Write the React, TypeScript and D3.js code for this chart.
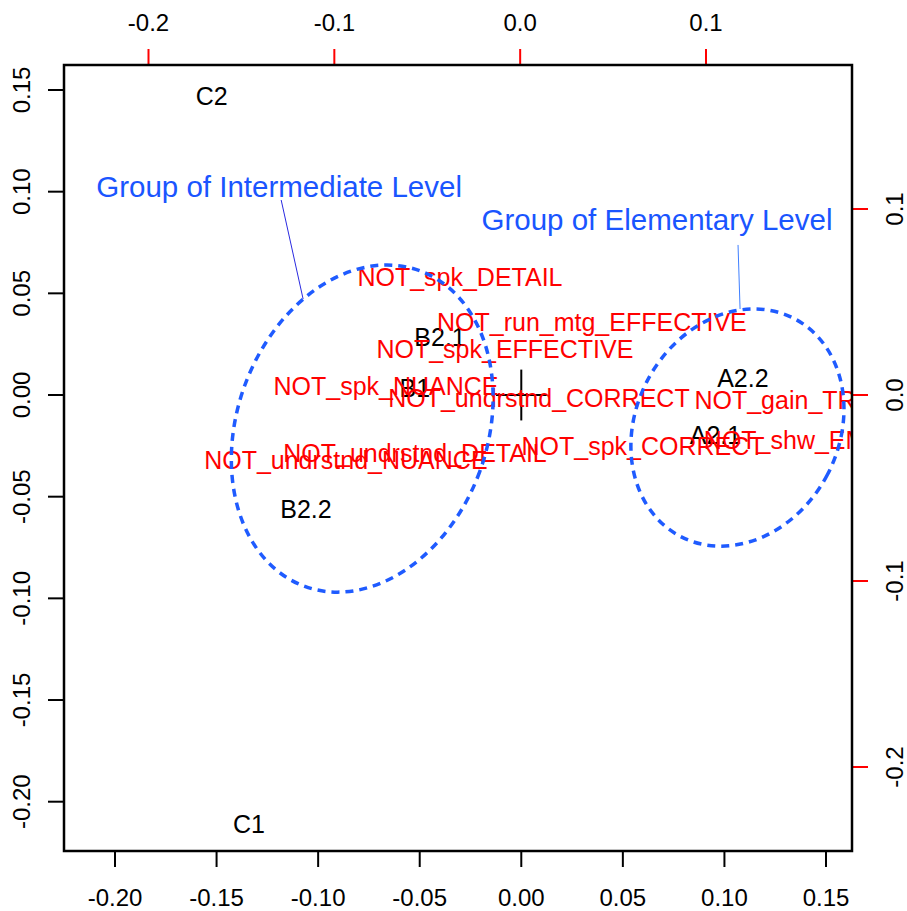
import React from "react";
import * as d3 from "d3";

// row points (black) – bottom / left axes
const rowNames = ["C2", "C1", "B2.2", "B2.1", "B1", "A2.2", "A2.1"];
const rowX = [-0.1524, -0.1341, -0.106, -0.04, -0.0524, 0.1091, 0.0956];
const rowY = [0.1471, -0.211, -0.0561, 0.0285, 0.0034, 0.0084, -0.0197];

// column points (red) – top / right axes
const colNames = [
  "NOT_spk_DETAIL",
  "NOT_run_mtg_EFFECTIVE",
  "NOT_spk_EFFECTIVE",
  "NOT_spk_NUANCE",
  "NOT_undrstnd_CORRECT",
  "NOT_gain_TRUST",
  "NOT_shw_EMPATHY",
  "NOT_spk_CORRECT",
  "NOT_undrstnd_DETAIL",
  "NOT_undrstnd_NUANCE",
];
const colX = [-0.0324, 0.0386, -0.0082, -0.0722, 0.0101, 0.1506, 0.164, 0.0661, -0.0566, -0.0938];
const colY = [0.0634, 0.0392, 0.0247, 0.0048, -0.0016, -0.0027, -0.0242, -0.0274, -0.0312, -0.0349];

const bottomTicks = [-0.2, -0.15, -0.1, -0.05, 0, 0.05, 0.1, 0.15];
const leftTicks = [-0.2, -0.15, -0.1, -0.05, 0, 0.05, 0.1, 0.15];
const topTicks = [-0.2, -0.1, 0, 0.1];
const rightTicks = [-0.2, -0.1, 0, 0.1];

// group ellipses: center x, center y, semi axes (data units), rotation deg
const groupNames = ["Group of Intermediate Level", "Group of Elementary Level"];
const groupCx = [-0.0783, 0.1064];
const groupCy = [-0.0165, -0.016];
const groupA = [0.0616, 0.05];
const groupB = [0.0827, 0.0605];
const groupRot = [20, 27.7];
const groupLabelX = [-0.1192, 0.0668];
const groupLabelY = [0.1023, 0.0861];
const pointerFrom = [[-0.1182, 0.0959], [0.1067, 0.0738]];
const pointerTo = [[-0.1074, 0.0472], [0.1077, 0.0423]];

export default function App() {
  const W = 907;
  const H = 911;
  const box = { left: 64, right: 852, top: 65, bottom: 851 };

  const xB = d3.scaleLinear().domain([-0.2, 0.15]).range([115, 826]);
  const yL = d3.scaleLinear().domain([-0.2, 0.15]).range([801.7, 90]);
  const xT = d3.scaleLinear().domain([-0.2, 0.1]).range([148.5, 706]);
  const yR = d3.scaleLinear().domain([-0.2, 0.1]).range([767, 209]);

  const font = "'Liberation Sans', Arial, sans-serif";
  // R prints a plain hyphen for negatives
  const fmt2 = (v: number) => d3.format(".2f")(v).replace("\u2212", "-");
  const fmt1 = (v: number) => d3.format(".1f")(v).replace("\u2212", "-");
  const unit = xB(1) - xB(0);

  return (
    <svg width={W} height={H} style={{ position: "absolute", left: 0, top: 0 }} fontFamily={font}>
      <defs>
        <clipPath id="plotclip">
          <rect x={box.left} y={box.top} width={box.right - box.left} height={box.bottom - box.top} />
        </clipPath>
      </defs>
      <rect width={W} height={H} fill="white" />

      {/* bottom axis */}
      {bottomTicks.map((t) => (
        <g key={"b" + t}>
          <line x1={xB(t)} x2={xB(t)} y1={box.bottom} y2={box.bottom + 16} stroke="black" strokeWidth={2} />
          <text x={xB(t)} y={897} fontSize={24} textAnchor="middle" dominantBaseline="central">
            {fmt2(t)}
          </text>
        </g>
      ))}
      {/* left axis */}
      {leftTicks.map((t) => (
        <g key={"l" + t}>
          <line x1={box.left - 16} x2={box.left} y1={yL(t)} y2={yL(t)} stroke="black" strokeWidth={2} />
          <text
            transform={`translate(21,${yL(t)}) rotate(-90)`}
            fontSize={24}
            textAnchor="middle"
            dominantBaseline="central"
          >
            {fmt2(t)}
          </text>
        </g>
      ))}
      {/* top axis */}
      {topTicks.map((t) => (
        <g key={"t" + t}>
          <line x1={xT(t)} x2={xT(t)} y1={box.top - 16} y2={box.top} stroke="red" strokeWidth={2} />
          <text x={xT(t)} y={22} fontSize={24} textAnchor="middle" dominantBaseline="central">
            {fmt1(t)}
          </text>
        </g>
      ))}
      {/* right axis */}
      {rightTicks.map((t) => (
        <g key={"r" + t}>
          <line x1={box.right} x2={box.right + 16} y1={yR(t)} y2={yR(t)} stroke="red" strokeWidth={2} />
          <text
            transform={`translate(894,${yR(t)}) rotate(-90)`}
            fontSize={24}
            textAnchor="middle"
            dominantBaseline="central"
          >
            {fmt1(t)}
          </text>
        </g>
      ))}

      <g clipPath="url(#plotclip)">
        {/* origin cross */}
        <line x1={xB(-0.0125)} x2={xB(0.0125)} y1={yL(0)} y2={yL(0)} stroke="black" strokeWidth={2} />
        <line x1={xB(0)} x2={xB(0)} y1={yL(0.0125)} y2={yL(-0.0125)} stroke="black" strokeWidth={2} />

        {rowNames.map((n, i) => (
          <text
            key={n}
            x={xB(rowX[i])}
            y={yL(rowY[i])}
            fontSize={25}
            textAnchor="middle"
            dominantBaseline="central"
            fill="black"
          >
            {n}
          </text>
        ))}

        {colNames.map((n, i) => (
          <text
            key={n}
            x={xT(colX[i])}
            y={yR(colY[i])}
            fontSize={25}
            textAnchor="middle"
            dominantBaseline="central"
            fill="#ff0000"
          >
            {n}
          </text>
        ))}

        {groupNames.map((n, i) => (
          <g key={n}>
            <ellipse
              cx={xB(groupCx[i])}
              cy={yL(groupCy[i])}
              rx={groupA[i] * unit}
              ry={groupB[i] * unit}
              transform={`rotate(${groupRot[i]},${xB(groupCx[i])},${yL(groupCy[i])})`}
              fill="none"
              stroke="#1f5bff"
              strokeWidth={3.5}
              strokeDasharray="8,6"
            />
            <line
              x1={xB(pointerFrom[i][0])}
              y1={yL(pointerFrom[i][1])}
              x2={xB(pointerTo[i][0])}
              y2={yL(pointerTo[i][1])}
              stroke={i === 0 ? "#2a2ae0" : "#3f7fff"}
              strokeWidth={1}
            />
            <text
              x={xB(groupLabelX[i])}
              y={yL(groupLabelY[i])}
              fontSize={29.5}
              textAnchor="middle"
              dominantBaseline="central"
              fill="#1a55ff"
            >
              {n}
            </text>
          </g>
        ))}
      </g>

      <rect
        x={box.left}
        y={box.top}
        width={box.right - box.left}
        height={box.bottom - box.top}
        fill="none"
        stroke="black"
        strokeWidth={2.5}
      />
    </svg>
  );
}
